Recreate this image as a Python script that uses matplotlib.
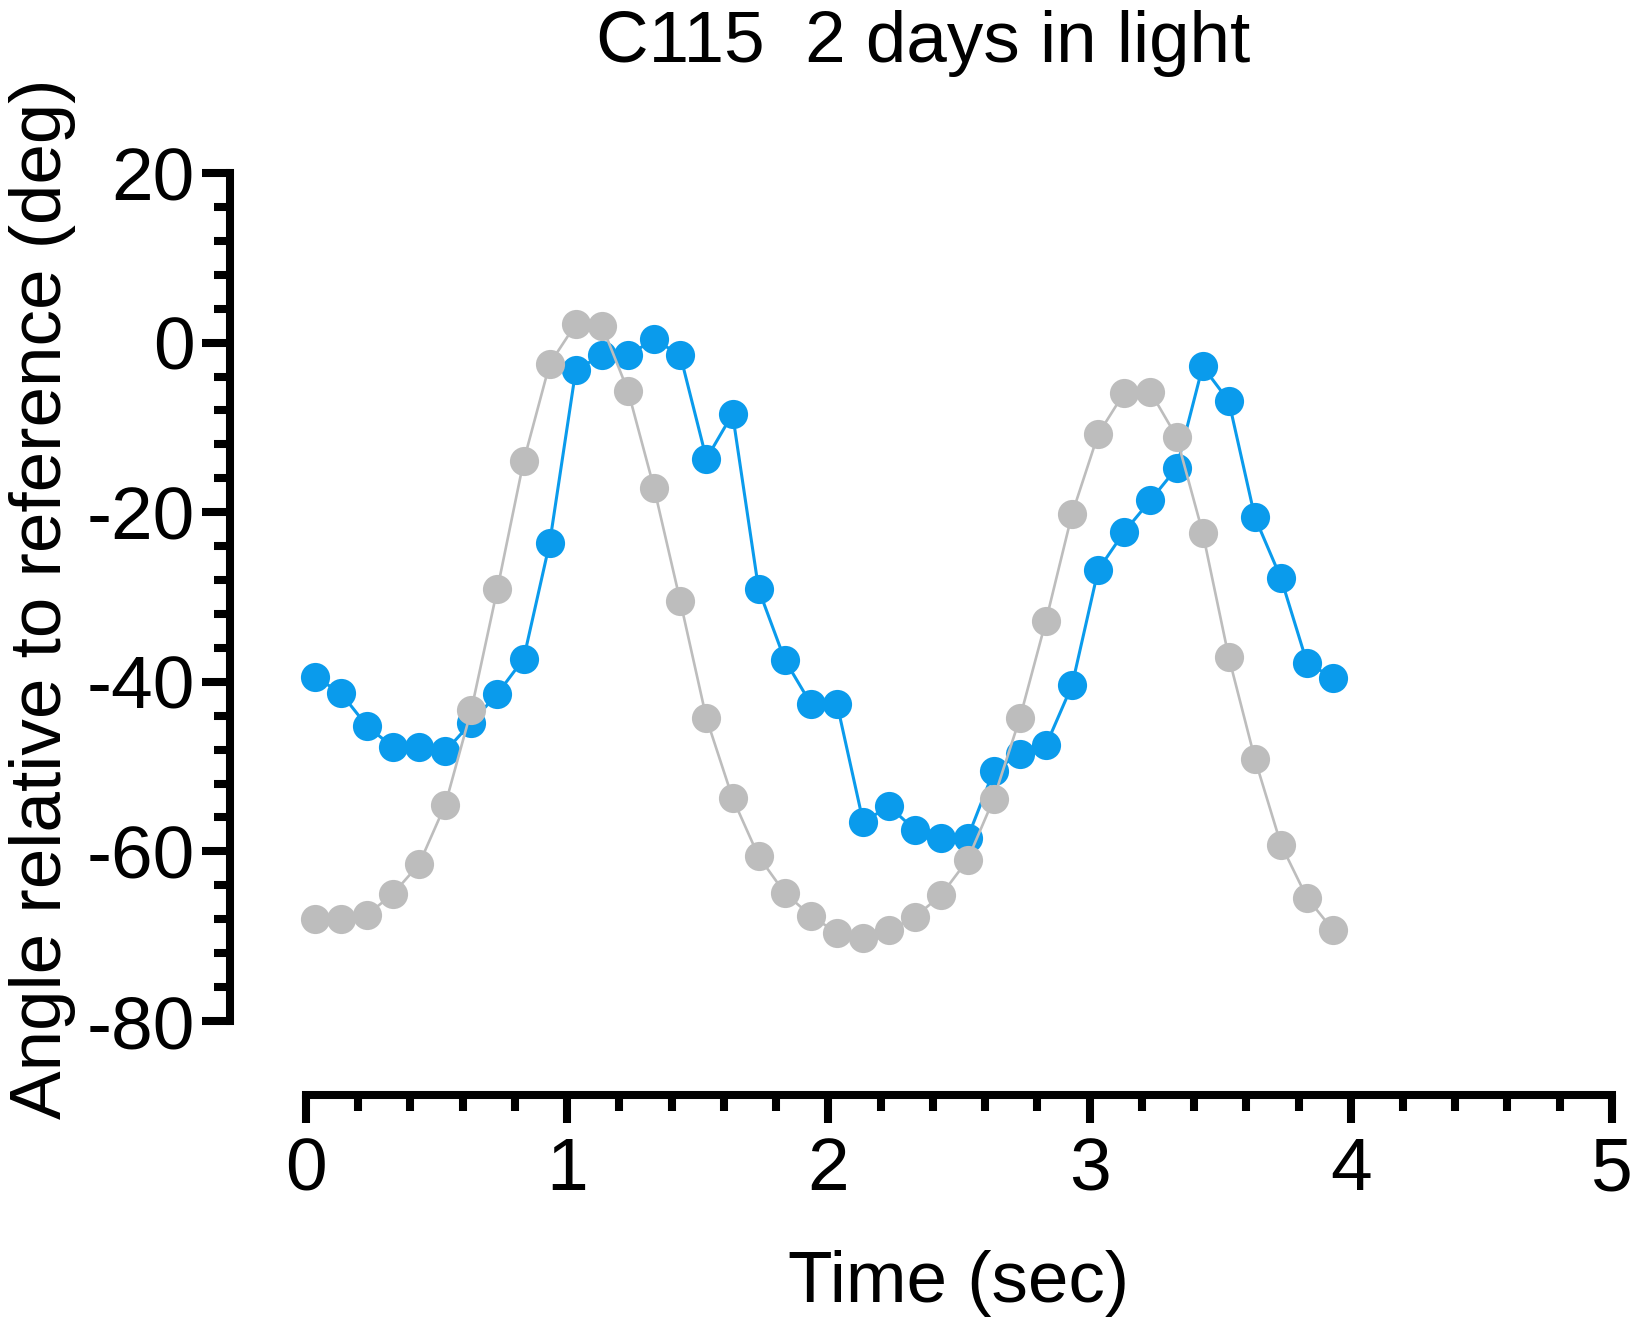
import matplotlib
matplotlib.use('Agg')
import matplotlib.pyplot as plt
from matplotlib.ticker import MultipleLocator

plt.rcParams['font.family'] = ['Liberation Sans', 'DejaVu Sans']
plt.rcParams['axes.unicode_minus'] = False

# Sample times (sec)
time_s = [0.033, 0.133, 0.233, 0.333, 0.433, 0.533, 0.633, 0.733, 0.833, 0.933,
          1.033, 1.133, 1.233, 1.333, 1.433, 1.533, 1.633, 1.733, 1.833, 1.933,
          2.033, 2.133, 2.233, 2.333, 2.433, 2.533, 2.633, 2.733, 2.833, 2.933,
          3.033, 3.133, 3.233, 3.333, 3.433, 3.533, 3.633, 3.733, 3.833, 3.933]

# Angle relative to reference (deg), blue trace
angle_blue = [-39.4, -41.3, -45.2, -47.7, -47.7, -48.2, -44.8, -41.4, -37.3, -23.6,
              -3.2, -1.5, -1.5, 0.4, -1.5, -13.7, -8.4, -29.1, -37.4, -42.6,
              -42.6, -56.5, -54.7, -57.5, -58.4, -58.4, -50.5, -48.5, -47.5, -40.4,
              -26.8, -22.3, -18.6, -14.8, -2.8, -6.9, -20.6, -27.8, -37.8, -39.5]

# Angle relative to reference (deg), grey trace
angle_gray = [-68.0, -68.0, -67.5, -65.0, -61.5, -54.5, -43.3, -29.0, -14.0, -2.5,
              2.2, 2.0, -5.7, -17.2, -30.5, -44.3, -53.7, -60.6, -64.9, -67.6,
              -69.6, -70.2, -69.3, -67.7, -65.1, -61.0, -53.8, -44.3, -32.8, -20.2,
              -10.8, -5.9, -5.8, -11.1, -22.4, -37.1, -49.1, -59.2, -65.5, -69.3]

blue = '#0A9BEC'
gray = '#BDBDBD'

fig = plt.figure(figsize=(16.33, 13.21), dpi=100)
ax = fig.add_axes([0.1874, 0.2271, 0.7997, 0.6419])

ax.plot(time_s, angle_blue, '-o', color=blue, lw=2.2, ms=21, mew=0, zorder=3, clip_on=False)
ax.plot(time_s, angle_gray, '-o', color=gray, lw=1.9, ms=21, mew=0, zorder=4, clip_on=False)

ax.set_xlim(0, 5)
ax.set_ylim(-80, 20)
ax.xaxis.set_major_locator(MultipleLocator(1))
ax.xaxis.set_minor_locator(MultipleLocator(0.2))
ax.yaxis.set_major_locator(MultipleLocator(20))
ax.yaxis.set_minor_locator(MultipleLocator(4))

# Prism-style offset axes
for side in ['top', 'right']:
    ax.spines[side].set_visible(False)
ax.spines['left'].set_position(('outward', 55))
ax.spines['bottom'].set_position(('outward', 53))
for side in ['left', 'bottom']:
    ax.spines[side].set_linewidth(5.8)
    ax.spines[side].set_capstyle('projecting')

ax.tick_params(which='major', length=20, width=5.8, labelsize=54, color='black')
ax.tick_params(which='minor', length=11.5, width=5.8)
ax.tick_params(axis='y', pad=5)
ax.tick_params(axis='x', pad=10)

fig.text(0.565, 0.953, 'C115  2 days in light', fontsize=52.5, ha='center', va='baseline')
fig.text(0.587, 0.0144, 'Time (sec)', fontsize=52.5, ha='center', va='baseline')
fig.text(0.026, 0.547, 'Angle relative to reference (deg)', fontsize=52.5,
         rotation=90, ha='center', va='center')

fig.savefig('out.png', dpi=100)
